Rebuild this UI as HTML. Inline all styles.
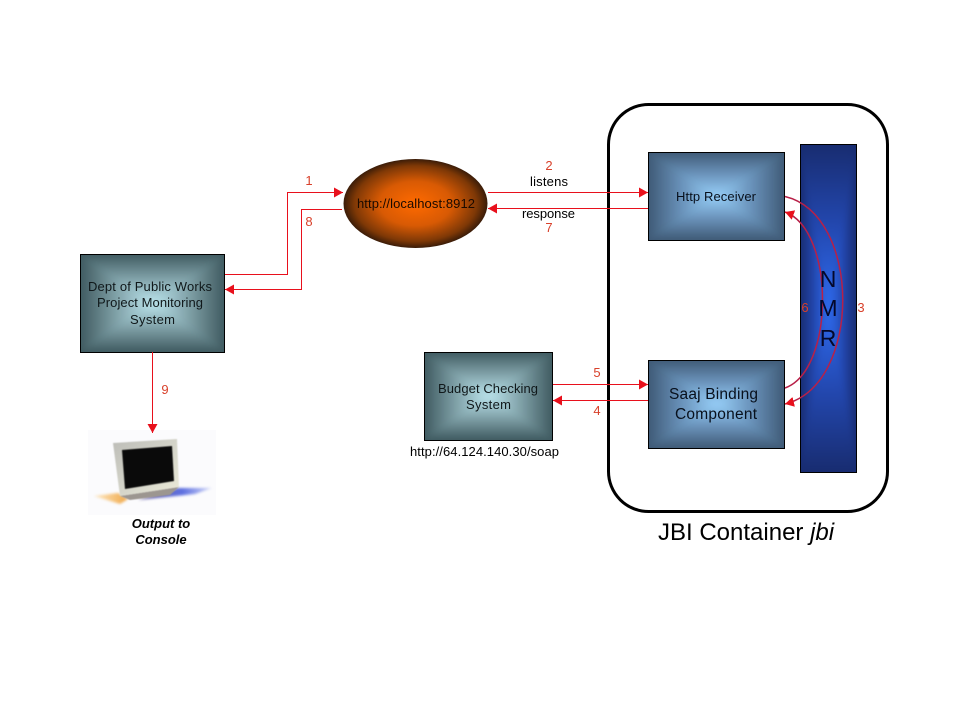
<!DOCTYPE html>
<html><head><meta charset="utf-8"><title>JBI diagram</title>
<style>html,body{margin:0;padding:0;background:#fff}svg{display:block}text{font-family:"Liberation Sans",Arial,sans-serif}</style></head>
<body>
<svg width="960" height="720" viewBox="0 0 960 720" xmlns="http://www.w3.org/2000/svg">
<defs>
<filter id="s" x="-10%" y="-10%" width="120%" height="120%" color-interpolation-filters="sRGB"><feGaussianBlur stdDeviation="3"/></filter>
<filter id="m" x="-5%" y="-5%" width="110%" height="110%" color-interpolation-filters="sRGB"><feGaussianBlur stdDeviation="0.6"/></filter>
<filter id="sh" x="-20%" y="-40%" width="140%" height="180%" color-interpolation-filters="sRGB"><feGaussianBlur stdDeviation="1.2"/></filter>
<clipPath id="c1"><rect x="80" y="254" width="145" height="99"/></clipPath>
<clipPath id="c2"><rect x="424" y="352" width="129" height="89"/></clipPath>
<clipPath id="c3"><rect x="648" y="152" width="137" height="89"/></clipPath>
<clipPath id="c4"><rect x="648" y="360" width="137" height="89"/></clipPath>
<clipPath id="c5"><rect x="800" y="144" width="57" height="329"/></clipPath>
<linearGradient id="tT" x1="0" y1="0" x2="0" y2="1"><stop offset="0" stop-color="#3f5a60"/><stop offset=".5" stop-color="#80a1a8"/><stop offset="1" stop-color="#bde6ee"/></linearGradient>
<linearGradient id="tB" x1="0" y1="1" x2="0" y2="0"><stop offset="0" stop-color="#3f5a60"/><stop offset=".5" stop-color="#80a1a8"/><stop offset="1" stop-color="#bde6ee"/></linearGradient>
<linearGradient id="tL" x1="0" y1="0" x2="1" y2="0"><stop offset="0" stop-color="#3f5a60"/><stop offset=".5" stop-color="#80a1a8"/><stop offset="1" stop-color="#bde6ee"/></linearGradient>
<linearGradient id="tR" x1="1" y1="0" x2="0" y2="0"><stop offset="0" stop-color="#3f5a60"/><stop offset=".5" stop-color="#80a1a8"/><stop offset="1" stop-color="#bde6ee"/></linearGradient>
<linearGradient id="bT" x1="0" y1="0" x2="0" y2="1"><stop offset="0" stop-color="#3f5a76"/><stop offset=".5" stop-color="#6a93bb"/><stop offset="1" stop-color="#98d0fa"/></linearGradient>
<linearGradient id="bB" x1="0" y1="1" x2="0" y2="0"><stop offset="0" stop-color="#3f5a76"/><stop offset=".5" stop-color="#6a93bb"/><stop offset="1" stop-color="#98d0fa"/></linearGradient>
<linearGradient id="bL" x1="0" y1="0" x2="1" y2="0"><stop offset="0" stop-color="#3f5a76"/><stop offset=".5" stop-color="#6a93bb"/><stop offset="1" stop-color="#98d0fa"/></linearGradient>
<linearGradient id="bR" x1="1" y1="0" x2="0" y2="0"><stop offset="0" stop-color="#3f5a76"/><stop offset=".5" stop-color="#6a93bb"/><stop offset="1" stop-color="#98d0fa"/></linearGradient>
<linearGradient id="nT" x1="0" y1="0" x2="0" y2="1"><stop offset="0" stop-color="#182c70"/><stop offset=".5" stop-color="#2348b0"/><stop offset="1" stop-color="#2f6cf0"/></linearGradient>
<linearGradient id="nB" x1="0" y1="1" x2="0" y2="0"><stop offset="0" stop-color="#182c70"/><stop offset=".5" stop-color="#2348b0"/><stop offset="1" stop-color="#2f6cf0"/></linearGradient>
<linearGradient id="nL" x1="0" y1="0" x2="1" y2="0"><stop offset="0" stop-color="#182c70"/><stop offset=".5" stop-color="#2348b0"/><stop offset="1" stop-color="#2f6cf0"/></linearGradient>
<linearGradient id="nR" x1="1" y1="0" x2="0" y2="0"><stop offset="0" stop-color="#182c70"/><stop offset=".5" stop-color="#2348b0"/><stop offset="1" stop-color="#2f6cf0"/></linearGradient>
<radialGradient id="el" cx=".5" cy=".5" r=".5"><stop offset="0" stop-color="#ff6a00"/><stop offset=".5" stop-color="#d85a04"/><stop offset=".85" stop-color="#7e3806"/><stop offset="1" stop-color="#3a1c08"/></radialGradient>
<linearGradient id="bez" x1="0" y1="0" x2="1" y2="1"><stop offset="0" stop-color="#bdbdb8"/><stop offset=".6" stop-color="#d8d8cc"/><stop offset="1" stop-color="#ecebd8"/></linearGradient>
<linearGradient id="org" x1="0" y1="0" x2="1" y2="0"><stop offset="0" stop-color="#fde8c4"/><stop offset="1" stop-color="#f0a848"/></linearGradient>
<linearGradient id="blu" x1="0" y1="0" x2="1" y2="0"><stop offset="0" stop-color="#6a60a0"/><stop offset=".6" stop-color="#5e70e0"/><stop offset="1" stop-color="#d5dbfa"/></linearGradient>
<marker id="a" markerUnits="userSpaceOnUse" markerWidth="9" markerHeight="10" refX="9" refY="5" orient="auto"><path d="M0,0L9,5L0,10z" fill="#e8101c"/></marker>
</defs>

<!-- container -->
<rect x="608.5" y="104.5" width="279" height="407" rx="40" ry="40" fill="#fff" stroke="#000" stroke-width="3"/>

<!-- NMR -->
<rect x="800" y="144" width="57" height="329" fill="#182c70"/>
<g clip-path="url(#c5)"><g filter="url(#s)">
<polygon points="800,144 857,144 828.5,308" fill="url(#nT)"/>
<polygon points="800,472 857,472 828.5,308" fill="url(#nB)"/>
<polygon points="800,144 800,472 828.5,308" fill="url(#nL)"/>
<polygon points="857,144 857,472 828.5,308" fill="url(#nR)"/>
</g></g>
<rect x="800.5" y="144.5" width="56" height="328" fill="none" stroke="#000"/>

<!-- Dept box -->
<rect x="80" y="254" width="145" height="99" fill="#3f5a60"/>
<g clip-path="url(#c1)"><g filter="url(#s)">
<polygon points="80,254 225,254 152.5,303" fill="url(#tT)"/>
<polygon points="80,352 225,352 152.5,303" fill="url(#tB)"/>
<polygon points="80,254 80,352 152.5,303" fill="url(#tL)"/>
<polygon points="225,254 225,352 152.5,303" fill="url(#tR)"/>
</g></g>
<rect x="80.5" y="254.5" width="144" height="98" fill="none" stroke="#000"/>

<!-- Budget box -->
<rect x="424" y="352" width="129" height="89" fill="#3f5a60"/>
<g clip-path="url(#c2)"><g filter="url(#s)">
<polygon points="424,352 553,352 488.5,396" fill="url(#tT)"/>
<polygon points="424,440 553,440 488.5,396" fill="url(#tB)"/>
<polygon points="424,352 424,440 488.5,396" fill="url(#tL)"/>
<polygon points="553,352 553,440 488.5,396" fill="url(#tR)"/>
</g></g>
<rect x="424.5" y="352.5" width="128" height="88" fill="none" stroke="#000"/>

<!-- Http box -->
<rect x="648" y="152" width="137" height="89" fill="#3f5a76"/>
<g clip-path="url(#c3)"><g filter="url(#s)">
<polygon points="648,152 785,152 716.5,196" fill="url(#bT)"/>
<polygon points="648,240 785,240 716.5,196" fill="url(#bB)"/>
<polygon points="648,152 648,240 716.5,196" fill="url(#bL)"/>
<polygon points="785,152 785,240 716.5,196" fill="url(#bR)"/>
</g></g>
<rect x="648.5" y="152.5" width="136" height="88" fill="none" stroke="#000"/>

<!-- Saaj box -->
<rect x="648" y="360" width="137" height="89" fill="#3f5a76"/>
<g clip-path="url(#c4)"><g filter="url(#s)">
<polygon points="648,360 785,360 716.5,404" fill="url(#bT)"/>
<polygon points="648,448 785,448 716.5,404" fill="url(#bB)"/>
<polygon points="648,360 648,448 716.5,404" fill="url(#bL)"/>
<polygon points="785,360 785,448 716.5,404" fill="url(#bR)"/>
</g></g>
<rect x="648.5" y="360.5" width="136" height="88" fill="none" stroke="#000"/>

<!-- ellipse -->
<ellipse cx="415.5" cy="203.5" rx="72" ry="44.5" fill="url(#el)"/>

<!-- monitor -->
<rect x="88" y="430" width="128" height="85" fill="#fbfbfd"/>
<polygon points="94,496 118,493 128,499 120,504" fill="url(#org)" filter="url(#sh)"/>
<polygon points="178,488 212,488 195,494 138,500" fill="url(#blu)" filter="url(#sh)"/>
<g filter="url(#m)">
<polygon points="120,496 179,487 170,495 130,500" fill="#9c9690"/>
<polygon points="113,443 177,439 179,487 120,496" fill="url(#bez)"/>
<polygon points="122,450 172,446 174,481 125,489" fill="#0a0a0a"/>
</g>

<!-- connectors -->
<g fill="none" stroke="#e8101c" stroke-width="1">
<path d="M225,274.5H287.5V192.5H343" marker-end="url(#a)"/>
<path d="M342,209.5H301.5V289.5H225" marker-end="url(#a)"/>
<path d="M488,192.5H648" marker-end="url(#a)"/>
<path d="M648,208.5H488" marker-end="url(#a)"/>
<path d="M553,384.5H648" marker-end="url(#a)"/>
<path d="M648,400.5H553" marker-end="url(#a)"/>
<path d="M152.5,352V433" marker-end="url(#a)"/>
</g>
<g fill="none" stroke="#b82048" stroke-width="1.5">
<path d="M785,196.5C862,215 862,385 785,404" marker-end="url(#a)"/>
<path d="M785,388C835,370 835,230 785,212" marker-end="url(#a)"/>
</g>

<!-- text -->
<g fill="#000" font-size="13">
<text x="88" y="291" textLength="124" lengthAdjust="spacing" fill="#10181a">Dept of Public Works</text>
<text x="97" y="307" textLength="106" lengthAdjust="spacing" fill="#10181a">Project Monitoring</text>
<text x="130" y="324" textLength="45" lengthAdjust="spacing" fill="#10181a">System</text>
<text x="357" y="208" textLength="118" lengthAdjust="spacing" fill="#1a0a00">http://localhost:8912</text>
<text x="530" y="186" textLength="38" lengthAdjust="spacing">listens</text>
<text x="522" y="218" textLength="53" lengthAdjust="spacing">response</text>
<text x="676" y="201" textLength="80" lengthAdjust="spacing" fill="#08101c">Http Receiver</text>
<text x="438" y="393" textLength="100" lengthAdjust="spacing" fill="#10181a">Budget Checking</text>
<text x="466" y="409" textLength="45" lengthAdjust="spacing" fill="#10181a">System</text>
<text x="410" y="456" textLength="149" lengthAdjust="spacing">http://64.124.140.30/soap</text>
<text x="669" y="399" font-size="15.5" textLength="89" lengthAdjust="spacing" fill="#08101c">Saaj Binding</text>
<text x="675" y="419" font-size="15.5" textLength="82" lengthAdjust="spacing" fill="#08101c">Component</text>
<text x="828" y="287" font-size="23" text-anchor="middle" fill="#04082a">N</text>
<text x="828" y="316" font-size="23" text-anchor="middle" fill="#04082a">M</text>
<text x="828" y="346" font-size="23" text-anchor="middle" fill="#04082a">R</text>
<text x="658" y="540" font-size="24">JBI Container <tspan font-style="italic">jbi</tspan></text>
<text x="161" y="528" font-size="13" font-weight="bold" font-style="italic" text-anchor="middle">Output to</text>
<text x="161" y="544" font-size="13" font-weight="bold" font-style="italic" text-anchor="middle">Console</text>
</g>
<g fill="#d8402a" font-size="13">
<text x="309" y="185" text-anchor="middle">1</text>
<text x="549" y="170" text-anchor="middle">2</text>
<text x="861" y="312" text-anchor="middle">3</text>
<text x="597" y="415" text-anchor="middle">4</text>
<text x="597" y="377" text-anchor="middle">5</text>
<text x="805" y="312" text-anchor="middle">6</text>
<text x="549" y="232" text-anchor="middle">7</text>
<text x="309" y="226" text-anchor="middle">8</text>
<text x="165" y="394" text-anchor="middle">9</text>
</g>
</svg>
</body></html>
